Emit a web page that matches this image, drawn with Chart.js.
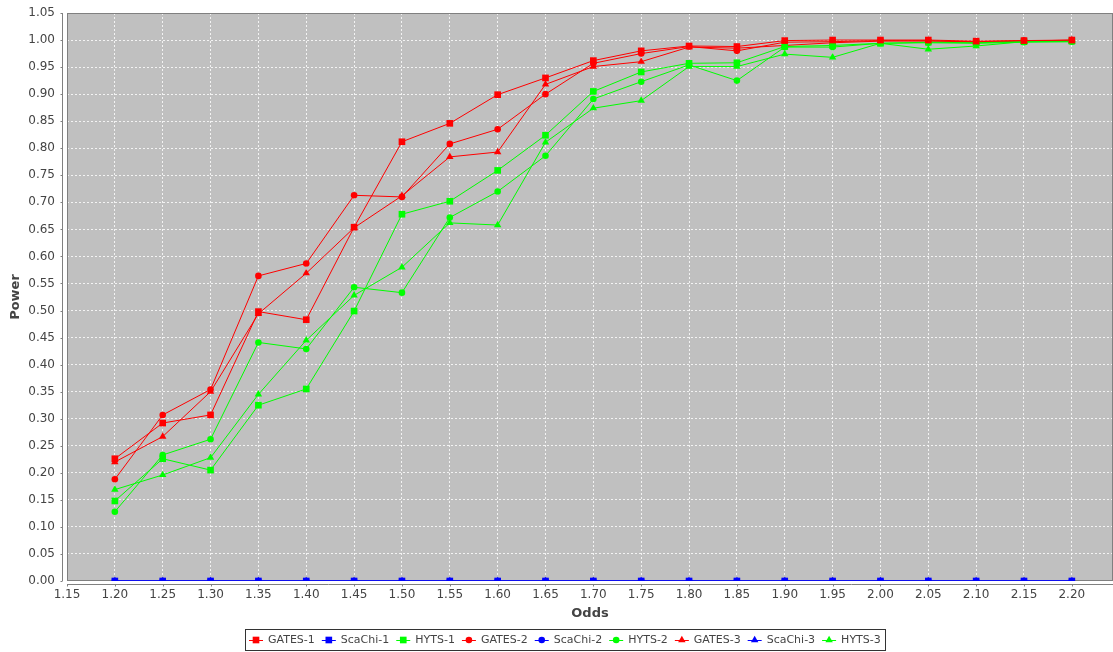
<!DOCTYPE html>
<html>
<head>
<meta charset="utf-8">
<title>Power vs Odds</title>
<script src="https://cdn.jsdelivr.net/npm/chart.js@4.4.0/dist/chart.umd.min.js"></script>
<style>
  html, body { margin: 0; padding: 0; background: #ffffff; }
  #wrap { width: 1113px; height: 652px; position: relative; }
  canvas { display: block; }
</style>
</head>
<body>
<div id="wrap"><canvas id="chart" width="1113" height="652"></canvas></div>
<script>
// Odds values on the horizontal axis
const odds = [1.20, 1.25, 1.30, 1.35, 1.40, 1.45, 1.50, 1.55, 1.60, 1.65, 1.70,
              1.75, 1.80, 1.85, 1.90, 1.95, 2.00, 2.05, 2.10, 2.15, 2.20];

// Power per method and scenario
const gates1 = [0.226, 0.292, 0.307, 0.498, 0.483, 0.654, 0.812, 0.846, 0.899, 0.930, 0.962,
                0.980, 0.989, 0.988, 0.999, 1.000, 1.000, 1.000, 0.998, 0.999, 1.000];
const scaChi1 = [0, 0, 0, 0, 0, 0, 0, 0, 0, 0, 0, 0, 0, 0, 0, 0, 0, 0, 0, 0, 0];
const hyts1 = [0.148, 0.226, 0.205, 0.325, 0.355, 0.499, 0.678, 0.702, 0.759, 0.824, 0.905,
               0.941, 0.957, 0.958, 0.988, 0.990, 0.994, 0.996, 0.995, 0.997, 0.998];
const gates2 = [0.188, 0.307, 0.354, 0.564, 0.587, 0.713, 0.710, 0.808, 0.835, 0.900, 0.957,
                0.975, 0.988, 0.980, 0.996, 0.997, 0.999, 0.998, 0.997, 0.999, 0.999];
const scaChi2 = [0, 0, 0, 0, 0, 0, 0, 0, 0, 0, 0, 0, 0, 0, 0, 0, 0, 0, 0, 0, 0];
const hyts2 = [0.128, 0.233, 0.262, 0.441, 0.429, 0.543, 0.533, 0.672, 0.720, 0.786, 0.891,
               0.923, 0.954, 0.925, 0.987, 0.987, 0.994, 0.995, 0.994, 0.996, 0.997];
const gates3 = [0.220, 0.267, 0.350, 0.494, 0.569, 0.653, 0.712, 0.784, 0.793, 0.918, 0.951,
                0.960, 0.987, 0.985, 0.990, 0.995, 0.998, 0.999, 0.996, 0.998, 1.000];
const scaChi3 = [0, 0, 0, 0, 0, 0, 0, 0, 0, 0, 0, 0, 0, 0, 0, 0, 0, 0, 0, 0, 0];
const hyts3 = [0.169, 0.196, 0.228, 0.345, 0.445, 0.528, 0.580, 0.662, 0.658, 0.811, 0.874,
               0.888, 0.951, 0.951, 0.974, 0.968, 0.994, 0.983, 0.989, 0.997, 0.997];

// Axis tick values
const xTicks = [1.15, 1.20, 1.25, 1.30, 1.35, 1.40, 1.45, 1.50, 1.55, 1.60, 1.65,
                1.70, 1.75, 1.80, 1.85, 1.90, 1.95, 2.00, 2.05, 2.10, 2.15, 2.20];
const yTicks = [0.00, 0.05, 0.10, 0.15, 0.20, 0.25, 0.30, 0.35, 0.40, 0.45, 0.50,
                0.55, 0.60, 0.65, 0.70, 0.75, 0.80, 0.85, 0.90, 0.95, 1.00, 1.05];

const RED = '#ff0000', BLUE = '#0000ff', GREEN = '#00ff00';
const series = [
  { label: 'GATES-1',  values: gates1,  color: RED,   shape: 'rect' },
  { label: 'ScaChi-1', values: scaChi1, color: BLUE,  shape: 'rect' },
  { label: 'HYTS-1',   values: hyts1,   color: GREEN, shape: 'rect' },
  { label: 'GATES-2',  values: gates2,  color: RED,   shape: 'circle' },
  { label: 'ScaChi-2', values: scaChi2, color: BLUE,  shape: 'circle' },
  { label: 'HYTS-2',   values: hyts2,   color: GREEN, shape: 'circle' },
  { label: 'GATES-3',  values: gates3,  color: RED,   shape: 'triangle' },
  { label: 'ScaChi-3', values: scaChi3, color: BLUE,  shape: 'triangle' },
  { label: 'HYTS-3',   values: hyts3,   color: GREEN, shape: 'triangle' }
];

const markerRadius = { rect: 4.7, circle: 3.3, triangle: 4.3 };

const datasets = series.map(s => ({
  label: s.label,
  data: odds.map((o, i) => ({ x: o, y: s.values[i] })),
  borderColor: s.color,
  backgroundColor: s.color,
  borderWidth: 1,
  pointStyle: s.shape,
  pointRadius: markerRadius[s.shape],
  pointBackgroundColor: s.color,
  pointBorderWidth: 0,
  tension: 0,
  clip: 0
}));

const AXIS_GREY = '#808080';
const TEXT_GREY = '#444444';
const FONT = '"DejaVu Sans", "Liberation Sans", sans-serif';

// Plot background, outline, offset axis lines and the bordered legend
const plotDecor = {
  id: 'plotDecor',
  beforeDraw(chart) {
    const { ctx, chartArea: a } = chart;
    ctx.save();
    ctx.fillStyle = '#c0c0c0';
    ctx.fillRect(a.left, a.top, a.right - a.left, a.bottom - a.top);
    ctx.restore();
  },
  beforeDatasetsDraw(chart) {
    const { ctx, chartArea: a } = chart;
    ctx.save();
    ctx.strokeStyle = AXIS_GREY;
    ctx.lineWidth = 1;
    ctx.strokeRect(a.left + 0.5, a.top + 0.5, a.right - a.left - 1, a.bottom - a.top - 1);
    ctx.restore();
  },
  afterDraw(chart) {
    const { ctx, chartArea: a, scales } = chart;
    ctx.save();
    ctx.strokeStyle = AXIS_GREY;
    ctx.lineWidth = 1;
    // vertical axis line, set slightly left of the plot
    const ax = a.left - 4.5;
    ctx.beginPath();
    ctx.moveTo(ax, a.top);
    ctx.lineTo(ax, a.bottom);
    yTicks.forEach(v => {
      const py = Math.round(scales.y.getPixelForValue(v)) + 0.5;
      ctx.moveTo(ax - 2, py);
      ctx.lineTo(ax, py);
    });
    // horizontal axis line, set slightly below the plot
    const ay = a.bottom + 3.5;
    ctx.moveTo(a.left, ay);
    ctx.lineTo(a.right, ay);
    xTicks.forEach(v => {
      const px = Math.round(scales.x.getPixelForValue(v)) + 0.5;
      ctx.moveTo(px, ay);
      ctx.lineTo(px, ay + 2);
    });
    ctx.stroke();

    // legend
    ctx.font = '11px ' + FONT;
    ctx.textBaseline = 'middle';
    ctx.textAlign = 'left';
    const iconW = 14, iconGap = 5, itemGap = 7, pad = 4;
    const items = chart.data.datasets.map(d => ({ d, w: ctx.measureText(d.label).width }));
    let total = pad * 2;
    items.forEach((it, i) => { total += iconW + iconGap + it.w + (i < items.length - 1 ? itemGap : 0); });
    const boxH = 21;
    const boxTop = 629;
    const boxLeft = Math.round(564.5 - total / 2);
    ctx.strokeStyle = '#333333';
    ctx.strokeRect(boxLeft + 0.5, boxTop + 0.5, Math.round(total), boxH);
    const cy = boxTop + boxH / 2 + 0.5;
    let x = boxLeft + pad;
    items.forEach(it => {
      const d = it.d;
      ctx.strokeStyle = d.borderColor;
      ctx.lineWidth = 1;
      ctx.beginPath();
      ctx.moveTo(x, Math.round(cy) + 0.5);
      ctx.lineTo(x + iconW, Math.round(cy) + 0.5);
      ctx.stroke();
      ctx.fillStyle = d.borderColor;
      Chart.helpers.drawPoint(ctx, {
        pointStyle: d.pointStyle,
        radius: d.pointRadius,
        rotation: 0,
        borderWidth: 0
      }, x + iconW / 2, cy);
      ctx.fillStyle = TEXT_GREY;
      ctx.fillText(d.label, x + iconW + iconGap, cy);
      x += iconW + iconGap + it.w + itemGap;
    });
    ctx.restore();
  }
};

new Chart(document.getElementById('chart'), {
  type: 'line',
  data: { datasets },
  plugins: [plotDecor],
  options: {
    responsive: false,
    animation: false,
    events: [],
    layout: { autoPadding: false, padding: { left: 0, right: 0, top: 13, bottom: 27 } },
    plugins: {
      legend: { display: false },
      tooltip: { enabled: false },
      title: { display: false }
    },
    scales: {
      x: {
        type: 'linear',
        min: 1.15,
        max: 2.243,
        afterFit(scale) {
          scale.height = 44;
          scale.paddingLeft = 0;
          scale.paddingRight = 0;
        },
        afterBuildTicks(scale) { scale.ticks = xTicks.map(v => ({ value: v })); },
        ticks: {
          autoSkip: false,
          maxRotation: 0,
          padding: 7,
          color: TEXT_GREY,
          font: { family: FONT, size: 12 },
          callback: v => Number(v).toFixed(2)
        },
        grid: { color: 'rgba(255,255,255,0.8)', lineWidth: 1, drawTicks: false },
        border: { display: false, dash: [2, 2] },
        title: {
          display: true,
          text: 'Odds',
          color: TEXT_GREY,
          font: { family: FONT, size: 13, weight: 'bold' },
          padding: { top: 0, bottom: 4 }
        }
      },
      y: {
        type: 'linear',
        min: 0,
        max: 1.05,
        afterFit(scale) {
          scale.width = 67;
          scale.paddingTop = 0;
          scale.paddingBottom = 0;
        },
        afterBuildTicks(scale) { scale.ticks = yTicks.map(v => ({ value: v })); },
        ticks: {
          autoSkip: false,
          padding: 12,
          color: TEXT_GREY,
          font: { family: FONT, size: 12 },
          callback: v => Number(v).toFixed(2)
        },
        grid: { color: 'rgba(255,255,255,0.8)', lineWidth: 1, drawTicks: false },
        border: { display: false, dash: [2, 2] },
        title: {
          display: true,
          text: 'Power',
          color: TEXT_GREY,
          font: { family: FONT, size: 13, weight: 'bold' },
          padding: { top: 8, bottom: 0 }
        }
      }
    }
  }
});
</script>
</body>
</html>
